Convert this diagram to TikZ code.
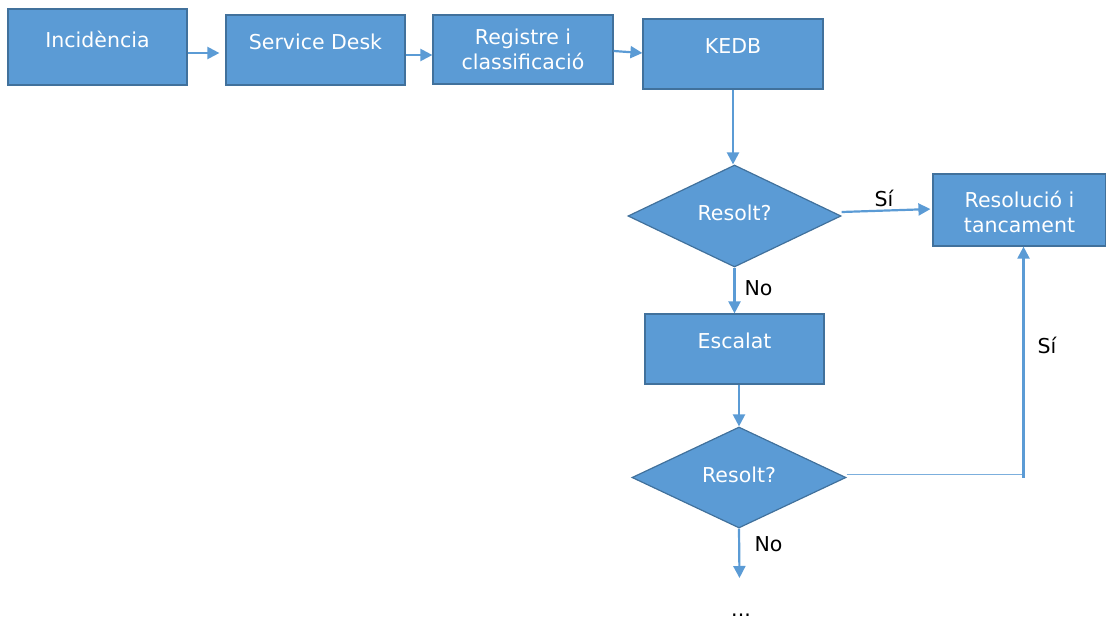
\documentclass[tikz,border=0pt]{standalone}
\usepackage{fontspec}
\setmainfont{DejaVu Sans}
\usetikzlibrary{shapes.geometric,arrows.meta}
\definecolor{boxblue}{HTML}{5B9BD5}
\definecolor{boxedge}{HTML}{41719C}
\tikzset{
  procbox/.style={rectangle, draw=boxedge, line width=1.2pt, fill=boxblue, inner sep=0pt},
  decision/.style={diamond, draw=boxedge, line width=1.2pt, fill=boxblue, inner sep=0pt},
  boxtext/.style={text=white, font=\fontsize{20.5}{25}\selectfont, align=center, inner sep=0pt},
  lbl/.style={text=black, font=\fontsize{20.5}{25}\selectfont, inner sep=0pt},
  flow/.style={draw=boxblue, line width=2.2pt, -{Triangle[length=12pt,width=12pt]}},
  thinflow/.style={draw=boxblue!80, line width=1.4pt}
}
\begin{document}
\begin{tikzpicture}[x=1pt,y=-1pt]
\useasboundingbox (0,0) rectangle (1106,619);

% process boxes
\node[procbox, minimum width=179pt, minimum height=76pt] (inc) at (97.5,47) {};
\node[procbox, minimum width=179pt, minimum height=70pt] (sd) at (315.5,50) {};
\node[procbox, minimum width=180pt, minimum height=69pt] (reg) at (523,49.5) {};
\node[procbox, minimum width=180pt, minimum height=70pt] (kedb) at (733,54) {};
\node[procbox, minimum width=173pt, minimum height=72pt] (res) at (1019.5,210) {};
\node[procbox, minimum width=179pt, minimum height=70pt] (esc) at (734.5,349) {};

% decisions
\node[decision, minimum width=213pt, minimum height=102pt] (d1) at (734.5,216) {};
\node[decision, minimum width=214pt, minimum height=101pt] (d2) at (739,477.5) {};

% box captions
\node[boxtext] (tinc) at ([yshift=8]inc.center) {Incidència};
\node[boxtext] (tsd) at ([yshift=8]sd.center) {Service Desk};
\node[boxtext] (treg) at (reg.center) {Registre i\\classificació};
\node[boxtext] (tkedb) at ([yshift=8]kedb.center) {KEDB};
\node[boxtext] (tres) at ([yshift=-2]res.center) {Resolució i\\tancament};
\node[boxtext] (tesc) at ([yshift=8]esc.center) {Escalat};
\node[boxtext] (td1) at ([yshift=3]d1.center) {Resolt?};
\node[boxtext] (td2) at ([yshift=3]d2.center) {Resolt?};

% connectors
\draw[flow, shorten >=6pt] ([yshift=-6]inc.east) -- ([yshift=-3]sd.west);
\draw[flow] ([yshift=-5]sd.east) -- ([yshift=-5.5]reg.west);
\draw[flow] ([yshift=-1.5]reg.east) -- ([yshift=1]kedb.west);
\draw[flow] (kedb.south) -- (kedb.south |- d1.north);
\draw[flow, shorten >=2pt] ([yshift=4]d1.east) -- ([yshift=1]res.west);
\draw[flow] (d1.south) -- (esc.north);
\draw[flow] (esc.south -| d2.north) -- (d2.north);
\draw[thinflow] ([yshift=3]d2.east) -| ([xshift=4]res.south);
\draw[flow] ([xshift=4]res.south |- d2.east) -- ([xshift=4]res.south);
\coordinate (cont) at (739.5,578);
\draw[flow] (d2.south) -- (cont);

% branch labels
\node[lbl] (ys1) at (884,198) {Sí};
\node[lbl] (no1) at (758.5,288) {No};
\node[lbl] (ys2) at (1047,345) {Sí};
\node[lbl] (no2) at (768.5,544) {No};
\node[lbl, anchor=base] (more) at (741,616) {...};
\end{tikzpicture}
\end{document}
